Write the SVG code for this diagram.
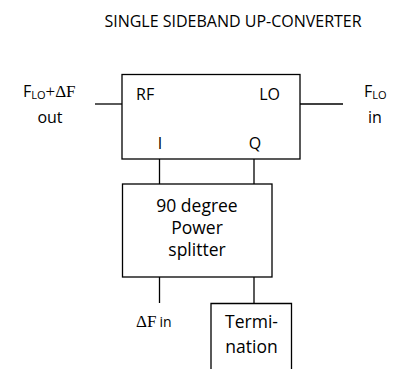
<svg xmlns="http://www.w3.org/2000/svg" width="399" height="369" viewBox="0 0 399 369">
<style>
.box{fill:#fff;stroke:#000;stroke-width:1.3}
.ln{stroke:#000;stroke-width:1.3;fill:none}
.t{font-family:"Open Sans","Liberation Sans",sans-serif;font-size:16px;fill:#000}
.b{font-size:17.5px}
.c{text-anchor:middle}
.s{font-family:"Liberation Serif",serif;font-size:17px}
.sub{font-size:11px}
</style>
<rect width="399" height="369" fill="#fff"/>
<text class="t c" x="233" y="27" font-size="14">SINGLE SIDEBAND UP-CONVERTER</text>
<g id="connectors">
<line class="ln" x1="95" y1="104" x2="122" y2="104"/>
<line class="ln" x1="300" y1="104" x2="343" y2="104"/>
<line class="ln" x1="159.5" y1="159" x2="159.5" y2="184"/>
<line class="ln" x1="254" y1="159" x2="254" y2="184"/>
<line class="ln" x1="159.5" y1="277" x2="159.5" y2="303"/>
<line class="ln" x1="254" y1="277" x2="254" y2="303"/>
</g>
<g id="mixer">
<rect class="box" x="122" y="74.5" width="178" height="84.5"/>
<text class="t" x="136" y="100">RF</text>
<text class="t" x="280" y="100" text-anchor="end">LO</text>
<text class="t c" x="160" y="149">I</text>
<text class="t c" x="255" y="149">Q</text>
</g>
<g id="splitter">
<rect class="box" x="122.5" y="184" width="149.5" height="93"/>
<text class="t b c" x="197" y="212">90 degree</text>
<text class="t b c" x="197" y="234">Power</text>
<text class="t b c" x="197" y="256">splitter</text>
</g>
<g id="termination">
<path class="ln" d="M211 372V303.5H291.5V372"/>
<text class="t b c" x="251.5" y="328">Termi-</text>
<text class="t b c" x="251.5" y="353">nation</text>
</g>
<g id="rf-out">
<text class="t" x="23" y="97" font-size="17">F<tspan class="sub" dy="2">LO</tspan><tspan class="s" dy="-2">+ΔF</tspan></text>
<text class="t c" x="50" y="123" font-size="16.5">out</text>
</g>
<g id="lo-in">
<text class="t" x="364" y="97" font-size="17">F<tspan class="sub" dy="2">LO</tspan></text>
<text class="t" x="368" y="123" font-size="16.5">in</text>
</g>
<g id="df-in">
<text class="t" x="136" y="327"><tspan class="s" font-size="16">ΔF</tspan><tspan font-size="14" dx="3">in</tspan></text>
</g>
</svg>
